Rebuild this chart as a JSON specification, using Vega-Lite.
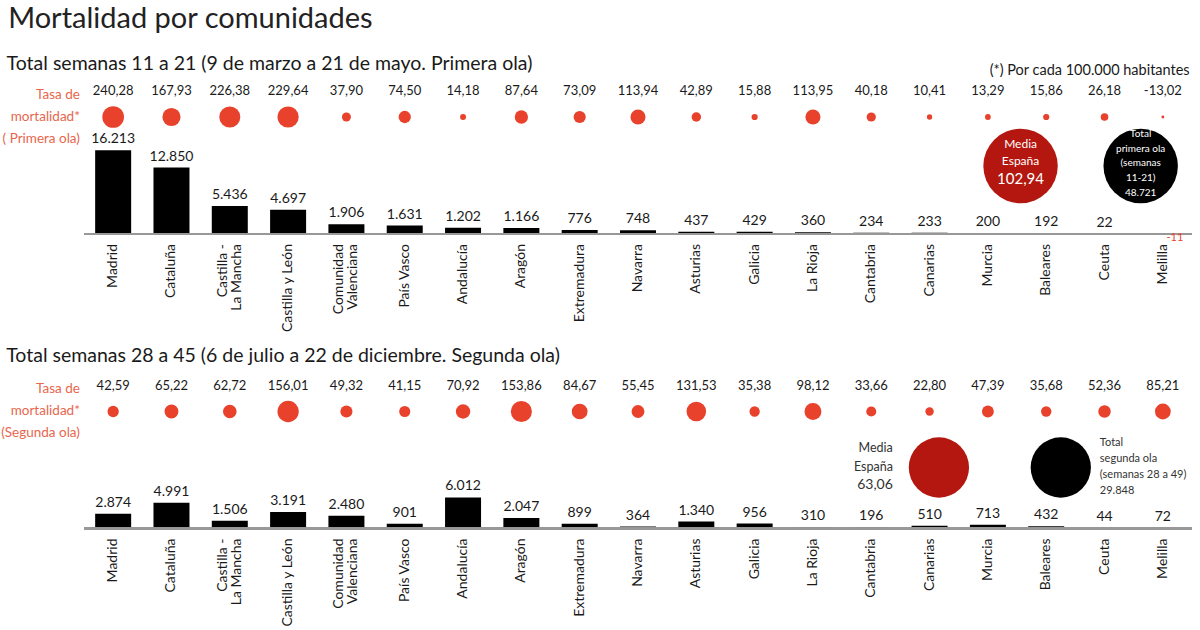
{
  "$schema": "https://vega.github.io/schema/vega-lite/v6.json",
  "background": "white",
  "padding": {"left": 1, "top": 5, "right": 5, "bottom": 0},
  "title": {"text": "Mortalidad por comunidades", "anchor": "start", "fontSize": 29, "fontWeight": "normal", "color": "#222222", "offset": 19.5, "dx": 7},
  "datasets": {
    "ola1": [
      {"n": 1, "ccaa": "Madrid", "tasa": 240.28, "muertes": 16213},
      {"n": 2, "ccaa": "Cataluña", "tasa": 167.93, "muertes": 12850},
      {"n": 3, "ccaa": "Castilla -\nLa Mancha", "tasa": 226.38, "muertes": 5436},
      {"n": 4, "ccaa": "Castilla y León", "tasa": 229.64, "muertes": 4697},
      {"n": 5, "ccaa": "Comunidad\nValenciana", "tasa": 37.90, "muertes": 1906},
      {"n": 6, "ccaa": "País Vasco", "tasa": 74.50, "muertes": 1631},
      {"n": 7, "ccaa": "Andalucía", "tasa": 14.18, "muertes": 1202},
      {"n": 8, "ccaa": "Aragón", "tasa": 87.64, "muertes": 1166},
      {"n": 9, "ccaa": "Extremadura", "tasa": 73.09, "muertes": 776},
      {"n": 10, "ccaa": "Navarra", "tasa": 113.94, "muertes": 748},
      {"n": 11, "ccaa": "Asturias", "tasa": 42.89, "muertes": 437},
      {"n": 12, "ccaa": "Galicia", "tasa": 15.88, "muertes": 429},
      {"n": 13, "ccaa": "La Rioja", "tasa": 113.95, "muertes": 360},
      {"n": 14, "ccaa": "Cantabria", "tasa": 40.18, "muertes": 234},
      {"n": 15, "ccaa": "Canarias", "tasa": 10.41, "muertes": 233},
      {"n": 16, "ccaa": "Murcia", "tasa": 13.29, "muertes": 200},
      {"n": 17, "ccaa": "Baleares", "tasa": 15.86, "muertes": 192},
      {"n": 18, "ccaa": "Ceuta", "tasa": 26.18, "muertes": 22},
      {"n": 19, "ccaa": "Melilla", "tasa": -13.02, "muertes": -11}
    ],
    "ola2": [
      {"n": 1, "ccaa": "Madrid", "tasa": 42.59, "muertes": 2874},
      {"n": 2, "ccaa": "Cataluña", "tasa": 65.22, "muertes": 4991},
      {"n": 3, "ccaa": "Castilla -\nLa Mancha", "tasa": 62.72, "muertes": 1506},
      {"n": 4, "ccaa": "Castilla y León", "tasa": 156.01, "muertes": 3191},
      {"n": 5, "ccaa": "Comunidad\nValenciana", "tasa": 49.32, "muertes": 2480},
      {"n": 6, "ccaa": "País Vasco", "tasa": 41.15, "muertes": 901},
      {"n": 7, "ccaa": "Andalucía", "tasa": 70.92, "muertes": 6012},
      {"n": 8, "ccaa": "Aragón", "tasa": 153.86, "muertes": 2047},
      {"n": 9, "ccaa": "Extremadura", "tasa": 84.67, "muertes": 899},
      {"n": 10, "ccaa": "Navarra", "tasa": 55.45, "muertes": 364},
      {"n": 11, "ccaa": "Asturias", "tasa": 131.53, "muertes": 1340},
      {"n": 12, "ccaa": "Galicia", "tasa": 35.38, "muertes": 956},
      {"n": 13, "ccaa": "La Rioja", "tasa": 98.12, "muertes": 310},
      {"n": 14, "ccaa": "Cantabria", "tasa": 33.66, "muertes": 196},
      {"n": 15, "ccaa": "Canarias", "tasa": 22.80, "muertes": 510},
      {"n": 16, "ccaa": "Murcia", "tasa": 47.39, "muertes": 713},
      {"n": 17, "ccaa": "Baleares", "tasa": 35.68, "muertes": 432},
      {"n": 18, "ccaa": "Ceuta", "tasa": 52.36, "muertes": 44},
      {"n": 19, "ccaa": "Melilla", "tasa": 85.21, "muertes": 72}
    ]
  },
  "spacing": 12.5,
  "resolve": {"scale": {"x": "independent", "y": "independent", "size": "independent"}},
  "vconcat": [
    {
      "width": 1108,
      "height": 177,
      "title": {"text": "Total semanas 11 a 21 (9 de marzo a 21 de mayo. Primera ola)", "anchor": "start", "fontSize": 19.5, "fontWeight": "normal", "color": "#1a1a1a", "offset": -11, "dx": 4},
      "data": {"name": "ola1"},
      "layer": [
        {
          "mark": {"type": "bar", "orient": "vertical", "width": 36, "color": "#000000"},
          "encoding": {
            "x": {"field": "n", "type": "quantitative", "scale": {"domain": [0.5, 19.5], "nice": false, "zero": false, "padding": 0}, "axis": null},
            "y": {"field": "muertes", "type": "quantitative", "scale": {"domain": [-1354.5, 32895], "nice": false, "zero": false}, "axis": null}
          }
        },
        {
          "mark": {"type": "rule", "color": "#999999", "strokeWidth": 1.5},
          "encoding": {"y": {"datum": 0, "type": "quantitative", "axis": null}}
        },
        {
          "transform": [{"filter": "datum.muertes >= 0"}],
          "mark": {"type": "text", "baseline": "bottom", "dy": -4, "fontSize": 14, "color": "#1a1a1a"},
          "encoding": {
            "x": {"field": "n", "type": "quantitative", "axis": null},
            "y": {"field": "muertes", "type": "quantitative", "axis": null},
            "text": {"field": "muertes", "type": "quantitative", "format": ",d"}
          }
        },
        {
          "transform": [{"filter": "datum.muertes < 0"}],
          "mark": {"type": "text", "baseline": "middle", "dx": 12, "dy": 4, "fontSize": 11, "color": "#e8412c"},
          "encoding": {
            "x": {"field": "n", "type": "quantitative", "axis": null},
            "y": {"datum": 0, "type": "quantitative", "axis": null},
            "text": {"field": "muertes", "type": "quantitative", "format": ",d"}
          }
        },
        {
          "transform": [{"filter": "indexof(datum.ccaa, '\\n') < 0"}],
          "mark": {"type": "text", "angle": 270, "align": "right", "baseline": "middle", "dx": -10, "fontSize": 14, "color": "#1a1a1a"},
          "encoding": {
            "x": {"field": "n", "type": "quantitative", "axis": null},
            "y": {"datum": 0, "type": "quantitative", "axis": null},
            "text": {"field": "ccaa", "type": "nominal"}
          }
        },
        {
          "transform": [{"filter": "indexof(datum.ccaa, '\\n') >= 0"}],
          "mark": {"type": "text", "angle": 270, "align": "right", "baseline": "middle", "dx": -10, "dy": -7, "fontSize": 14, "lineBreak": "\n", "lineHeight": 14, "color": "#1a1a1a"},
          "encoding": {
            "x": {"field": "n", "type": "quantitative", "axis": null},
            "y": {"datum": 0, "type": "quantitative", "axis": null},
            "text": {"field": "ccaa", "type": "nominal"}
          }
        },
        {
          "mark": {"type": "circle", "opacity": 1, "color": "#e8412c"},
          "encoding": {
            "x": {"field": "n", "type": "quantitative", "axis": null},
            "y": {"datum": 22640, "type": "quantitative", "axis": null},
            "size": {"field": "tasa", "type": "quantitative", "scale": {"domain": [0, 240.28], "range": [8, 470], "clamp": true}, "legend": null}
          }
        },
        {
          "mark": {"type": "text", "baseline": "middle", "fontSize": 13, "color": "#1a1a1a"},
          "encoding": {
            "x": {"field": "n", "type": "quantitative", "axis": null},
            "y": {"datum": 27670, "type": "quantitative", "axis": null},
            "text": {"field": "tasa", "type": "quantitative", "format": ",.2f"}
          }
        },
        {
          "data": {"values": [{"texto": "Tasa de\nmortalidad*\n( Primera ola)"}]},
          "mark": {"type": "text", "align": "right", "baseline": "middle", "dy": -22, "fontSize": 13.5, "lineBreak": "\n", "lineHeight": 22, "color": "#e8664d"},
          "encoding": {
            "x": {"datum": 0.43, "type": "quantitative", "axis": null},
            "y": {"datum": 22640, "type": "quantitative", "axis": null},
            "text": {"field": "texto", "type": "nominal"}
          }
        },
        {
          "data": {"values": [{"texto": "(*) Por cada 100.000 habitantes"}]},
          "mark": {"type": "text", "align": "right", "baseline": "middle", "fontSize": 14.5, "color": "#1a1a1a"},
          "encoding": {
            "x": {"datum": 19.46, "type": "quantitative", "axis": null},
            "y": {"datum": 31540, "type": "quantitative", "axis": null},
            "text": {"field": "texto", "type": "nominal"}
          }
        },
        {
          "data": {"values": [{"etiqueta": "Media\nEspaña", "valor": 102.94}]},
          "layer": [
            {
              "mark": {"type": "circle", "opacity": 1, "color": "#b3170f", "size": 5540},
              "encoding": {
                "x": {"datum": 16.56, "type": "quantitative", "axis": null},
                "y": {"datum": 13158, "type": "quantitative", "axis": null}
              }
            },
            {
              "mark": {"type": "text", "baseline": "middle", "dy": -22, "fontSize": 12, "lineBreak": "\n", "lineHeight": 17, "color": "#ffffff"},
              "encoding": {
                "x": {"datum": 16.56, "type": "quantitative", "axis": null},
                "y": {"datum": 13158, "type": "quantitative", "axis": null},
                "text": {"field": "etiqueta", "type": "nominal"}
              }
            },
            {
              "mark": {"type": "text", "baseline": "middle", "dy": 13, "fontSize": 15, "color": "#ffffff"},
              "encoding": {
                "x": {"datum": 16.56, "type": "quantitative", "axis": null},
                "y": {"datum": 13158, "type": "quantitative", "axis": null},
                "text": {"field": "valor", "type": "quantitative", "format": ",.2f"}
              }
            }
          ]
        },
        {
          "data": {"values": [{"etiqueta": "Total\nprimera ola\n(semanas\n11-21)", "valor": 48721}]},
          "layer": [
            {
              "mark": {"type": "circle", "opacity": 1, "color": "#000000", "size": 5540},
              "encoding": {
                "x": {"datum": 18.62, "type": "quantitative", "axis": null},
                "y": {"datum": 13158, "type": "quantitative", "axis": null}
              }
            },
            {
              "mark": {"type": "text", "baseline": "middle", "dy": -32, "fontSize": 10, "lineBreak": "\n", "lineHeight": 14.5, "color": "#ffffff"},
              "encoding": {
                "x": {"datum": 18.62, "type": "quantitative", "axis": null},
                "y": {"datum": 13158, "type": "quantitative", "axis": null},
                "text": {"field": "etiqueta", "type": "nominal"}
              }
            },
            {
              "mark": {"type": "text", "baseline": "middle", "dy": 27, "fontSize": 10, "color": "#ffffff"},
              "encoding": {
                "x": {"datum": 18.62, "type": "quantitative", "axis": null},
                "y": {"datum": 13158, "type": "quantitative", "axis": null},
                "text": {"field": "valor", "type": "quantitative", "format": ",d"}
              }
            }
          ]
        }
      ]
    },
    {
      "width": 1108,
      "height": 177,
      "title": {"text": "Total semanas 28 a 45 (6 de julio a 22 de diciembre. Segunda ola)", "anchor": "start", "fontSize": 19.5, "fontWeight": "normal", "color": "#1a1a1a", "offset": -8, "dx": 5},
      "data": {"name": "ola2"},
      "layer": [
        {
          "mark": {"type": "bar", "orient": "vertical", "width": 36, "color": "#000000"},
          "encoding": {
            "x": {"field": "n", "type": "quantitative", "scale": {"domain": [0.5, 19.5], "nice": false, "zero": false, "padding": 0}, "axis": null},
            "y": {"field": "muertes", "type": "quantitative", "scale": {"domain": [-1354.5, 32895], "nice": false, "zero": false}, "axis": null}
          }
        },
        {
          "mark": {"type": "rule", "color": "#999999", "strokeWidth": 1.5},
          "encoding": {"y": {"datum": 0, "type": "quantitative", "axis": null}}
        },
        {
          "mark": {"type": "text", "baseline": "bottom", "dy": -4, "fontSize": 14, "color": "#1a1a1a"},
          "encoding": {
            "x": {"field": "n", "type": "quantitative", "axis": null},
            "y": {"field": "muertes", "type": "quantitative", "axis": null},
            "text": {"field": "muertes", "type": "quantitative", "format": ",d"}
          }
        },
        {
          "transform": [{"filter": "indexof(datum.ccaa, '\\n') < 0"}],
          "mark": {"type": "text", "angle": 270, "align": "right", "baseline": "middle", "dx": -10, "fontSize": 14, "color": "#1a1a1a"},
          "encoding": {
            "x": {"field": "n", "type": "quantitative", "axis": null},
            "y": {"datum": 0, "type": "quantitative", "axis": null},
            "text": {"field": "ccaa", "type": "nominal"}
          }
        },
        {
          "transform": [{"filter": "indexof(datum.ccaa, '\\n') >= 0"}],
          "mark": {"type": "text", "angle": 270, "align": "right", "baseline": "middle", "dx": -10, "dy": -7, "fontSize": 14, "lineBreak": "\n", "lineHeight": 14, "color": "#1a1a1a"},
          "encoding": {
            "x": {"field": "n", "type": "quantitative", "axis": null},
            "y": {"datum": 0, "type": "quantitative", "axis": null},
            "text": {"field": "ccaa", "type": "nominal"}
          }
        },
        {
          "mark": {"type": "circle", "opacity": 1, "color": "#e8412c"},
          "encoding": {
            "x": {"field": "n", "type": "quantitative", "axis": null},
            "y": {"datum": 22640, "type": "quantitative", "axis": null},
            "size": {"field": "tasa", "type": "quantitative", "scale": {"domain": [0, 156.01], "range": [5, 452], "clamp": true}, "legend": null}
          }
        },
        {
          "mark": {"type": "text", "baseline": "middle", "fontSize": 13, "color": "#1a1a1a"},
          "encoding": {
            "x": {"field": "n", "type": "quantitative", "axis": null},
            "y": {"datum": 27670, "type": "quantitative", "axis": null},
            "text": {"field": "tasa", "type": "quantitative", "format": ",.2f"}
          }
        },
        {
          "data": {"values": [{"texto": "Tasa de\nmortalidad*\n(Segunda ola)"}]},
          "mark": {"type": "text", "align": "right", "baseline": "middle", "dy": -22, "fontSize": 13.5, "lineBreak": "\n", "lineHeight": 22, "color": "#e8664d"},
          "encoding": {
            "x": {"datum": 0.43, "type": "quantitative", "axis": null},
            "y": {"datum": 22640, "type": "quantitative", "axis": null},
            "text": {"field": "texto", "type": "nominal"}
          }
        },
        {
          "data": {"values": [{"etiqueta": "Media\nEspaña", "valor": 63.06}]},
          "layer": [
            {
              "mark": {"type": "circle", "opacity": 1, "color": "#b3170f", "size": 3632},
              "encoding": {
                "x": {"datum": 15.16, "type": "quantitative", "axis": null},
                "y": {"datum": 11804, "type": "quantitative", "axis": null}
              }
            },
            {
              "mark": {"type": "text", "align": "right", "baseline": "middle", "dy": -19, "fontSize": 12.5, "lineBreak": "\n", "lineHeight": 19, "color": "#333333"},
              "encoding": {
                "x": {"datum": 14.37, "type": "quantitative", "axis": null},
                "y": {"datum": 11804, "type": "quantitative", "axis": null},
                "text": {"field": "etiqueta", "type": "nominal"}
              }
            },
            {
              "mark": {"type": "text", "align": "right", "baseline": "middle", "dy": 18, "fontSize": 14, "color": "#333333"},
              "encoding": {
                "x": {"datum": 14.37, "type": "quantitative", "axis": null},
                "y": {"datum": 11804, "type": "quantitative", "axis": null},
                "text": {"field": "valor", "type": "quantitative", "format": ",.2f"}
              }
            }
          ]
        },
        {
          "data": {"values": [{"etiqueta": "Total\nsegunda ola\n(semanas 28 a 49)", "valor": 29848}]},
          "layer": [
            {
              "mark": {"type": "circle", "opacity": 1, "color": "#000000", "size": 3632},
              "encoding": {
                "x": {"datum": 17.25, "type": "quantitative", "axis": null},
                "y": {"datum": 11804, "type": "quantitative", "axis": null}
              }
            },
            {
              "mark": {"type": "text", "align": "left", "baseline": "middle", "dy": -24, "fontSize": 11, "lineBreak": "\n", "lineHeight": 16, "color": "#333333"},
              "encoding": {
                "x": {"datum": 17.92, "type": "quantitative", "axis": null},
                "y": {"datum": 11804, "type": "quantitative", "axis": null},
                "text": {"field": "etiqueta", "type": "nominal"}
              }
            },
            {
              "mark": {"type": "text", "align": "left", "baseline": "middle", "dy": 24, "fontSize": 11, "color": "#333333"},
              "encoding": {
                "x": {"datum": 17.92, "type": "quantitative", "axis": null},
                "y": {"datum": 11804, "type": "quantitative", "axis": null},
                "text": {"field": "valor", "type": "quantitative", "format": ",d"}
              }
            }
          ]
        }
      ]
    }
  ],
  "config": {
    "font": "Lato",
    "view": {"stroke": null},
    "locale": {"number": {"decimal": ",", "thousands": ".", "grouping": [3], "currency": ["", " €"], "minus": "-"}}
  }
}
